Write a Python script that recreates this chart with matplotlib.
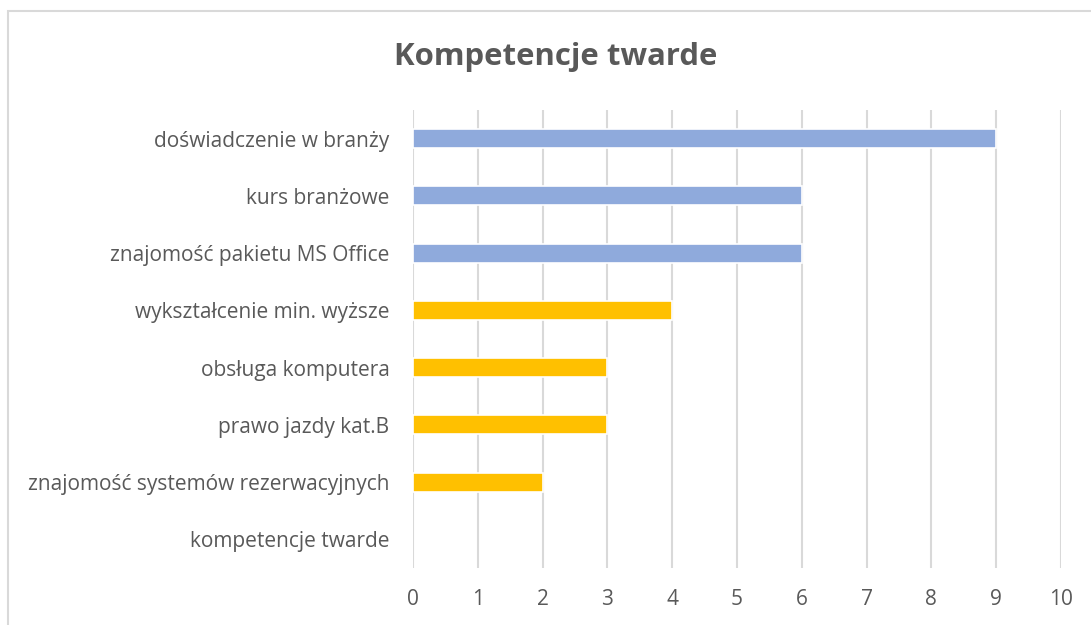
import matplotlib
matplotlib.use("Agg")
import matplotlib.pyplot as plt
from matplotlib.patches import Rectangle

categories = [
    "doświadczenie w branży",
    "kurs branżowe",
    "znajomość pakietu MS Office",
    "wykształcenie min. wyższe",
    "obsługa komputera",
    "prawo jazdy kat.B",
    "znajomość systemów rezerwacyjnych",
    "kompetencje twarde",
]
values = [9, 6, 6, 4, 3, 3, 2, 0]
bar_colors = ["#8FAADC", "#8FAADC", "#8FAADC", "#FFC000", "#FFC000", "#FFC000", "#FFC000", "#FFC000"]
x_ticks = list(range(0, 11))
title = "Kompetencje twarde"

plt.rcParams['font.family'] = ['Open Sans', 'DejaVu Sans']

W, H = 1091, 625
fig = plt.figure(figsize=(W / 100, H / 100), dpi=100)
fig.patch.set_facecolor("white")

# outer chart border (cropped at right/bottom)
fig.patches.append(Rectangle((8 / W, -0.1), 1.2, 1 - 11 / H + 0.1, transform=fig.transFigure,
                             fill=False, edgecolor="#D9D9D9", linewidth=1.5))

ax = fig.add_axes([413 / W, 1 - 568 / H, (1061 - 413) / W, (568 - 110) / H])
y = list(range(len(categories)))
edges = ["white" if v > 0 else "none" for v in values]
ax.barh(y, values, height=0.33, color=bar_colors, edgecolor=edges, linewidth=1.2, zorder=3)
ax.set_ylim(len(categories) - 0.5, -0.5)
ax.set_xlim(0, 10)
ax.set_yticks(y)
ax.set_yticklabels(categories)
ax.set_xticks(x_ticks)
ax.set_xticklabels([str(t) for t in x_ticks])
ax.tick_params(axis="both", length=0, labelsize=15, labelcolor="#595959")
ax.tick_params(axis="y", pad=17)
ax.tick_params(axis="x", pad=15)
ax.grid(axis="x", color="#D9D9D9", linewidth=1.5, zorder=0)
ax.set_axisbelow(True)
for s in ax.spines.values():
    s.set_visible(False)

fig.text(556 / W, 1 - 57 / H, title, ha="center", va="center", fontsize=22.4,
         fontweight="bold", color="#595959")

fig.savefig("out.png", dpi=100)
